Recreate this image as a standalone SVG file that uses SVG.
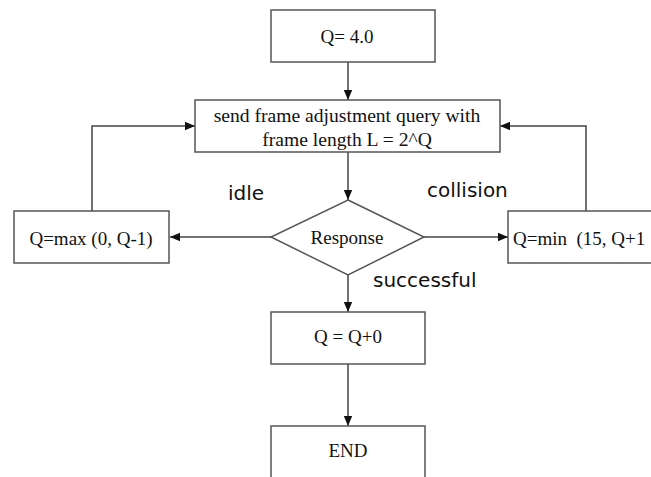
<svg xmlns="http://www.w3.org/2000/svg" width="651" height="477" viewBox="0 0 651 477">
<style>
.box{fill:#fff;stroke:#555;stroke-width:1.5}
.t{font-family:"Liberation Serif","Times New Roman",serif;font-size:19px;fill:#111;text-anchor:middle}
.ts{text-anchor:start}
.lbl{font-family:"DejaVu Sans",sans-serif;font-size:20px;fill:#111}
.c{fill:none;stroke:#444;stroke-width:1.5}
</style>
<defs>
<marker id="ah" viewBox="0 0 10 10" refX="10" refY="5" markerWidth="10" markerHeight="10" markerUnits="userSpaceOnUse" orient="auto">
<path d="M0,0.8 L10,5 L0,9.2 Z" fill="#111"/>
</marker>
</defs>
<rect width="651" height="477" fill="#fff"/>
<g id="connectors">
<path class="c" d="M348,62 V100" marker-end="url(#ah)"/>
<path class="c" d="M348,152 V200" marker-end="url(#ah)"/>
<path class="c" d="M271,237 H170" marker-end="url(#ah)"/>
<path class="c" d="M424,237 H508" marker-end="url(#ah)"/>
<path class="c" d="M348,275 V312" marker-end="url(#ah)"/>
<path class="c" d="M348,364 V426" marker-end="url(#ah)"/>
<path class="c" d="M92,211 V126 H195" marker-end="url(#ah)"/>
<path class="c" d="M586,211 V126 H500" marker-end="url(#ah)"/>
</g>
<g id="start">
<rect class="box" x="271" y="10" width="164" height="52"/>
<text class="t" x="347" y="43">Q= 4.0</text>
</g>
<g id="query">
<rect class="box" x="195" y="100" width="305" height="52"/>
<text class="t" x="347" y="122" style="font-size:19.6px">send frame adjustment query with</text>
<text class="t" x="347" y="146" style="font-size:19.6px">frame length L = 2^Q</text>
</g>
<g id="response">
<polygon class="box" points="348,200 424,237 348,275 271,237"/>
<text class="t" x="347" y="244">Response</text>
</g>
<g id="idle-box">
<rect class="box" x="14" y="211" width="155" height="52"/>
<text class="t" x="91" y="245">Q=max (0, Q-1)</text>
</g>
<g id="collision-box">
<rect class="box" x="508" y="211" width="160" height="52"/>
<text class="t ts" x="513" y="245" xml:space="preserve">Q=min  (15, Q+1</text>
</g>
<g id="success-box">
<rect class="box" x="271" y="312" width="154" height="52"/>
<text class="t" x="348" y="343">Q = Q+0</text>
</g>
<g id="end">
<rect class="box" x="271" y="426" width="154" height="52"/>
<text class="t" x="348" y="457">END</text>
</g>
<g id="labels">
<text class="lbl" x="228" y="200">idle</text>
<text class="lbl" x="427" y="197">collision</text>
<text class="lbl" x="373" y="287">successful</text>
</g>
</svg>
